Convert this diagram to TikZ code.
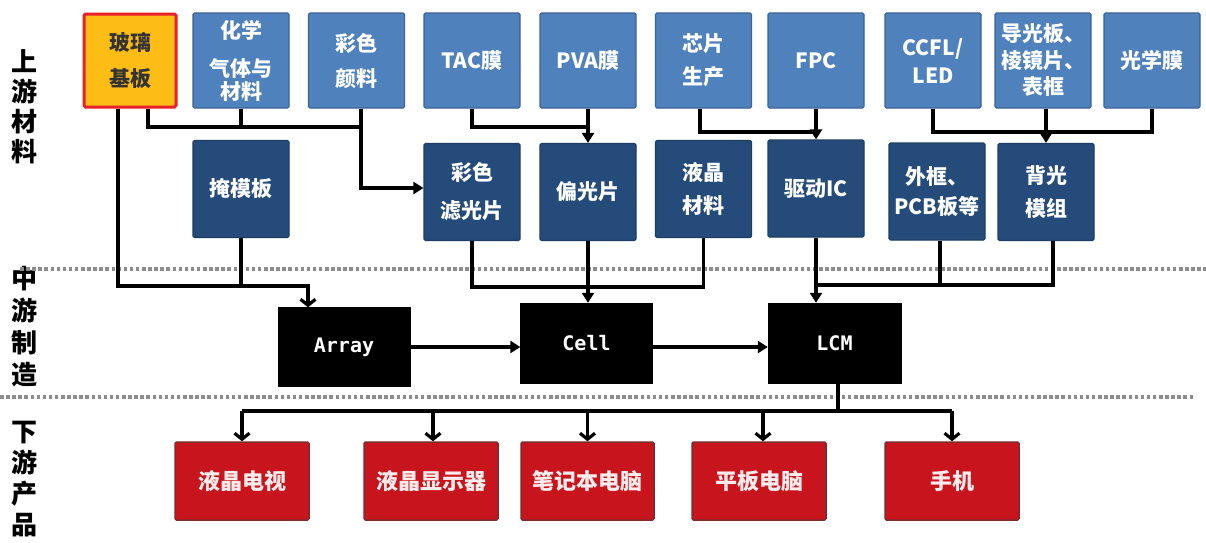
\documentclass[tikz,border=0pt]{standalone}
\usepackage{fontspec}
\setmainfont{Noto Sans CJK SC}
\newfontfamily\cjk{Noto Sans CJK SC}
\newfontfamily\monof{DejaVu Sans Mono}
\usetikzlibrary{arrows.meta,calc}
\definecolor{topblue}{HTML}{4F81BD}
\definecolor{topblueb}{HTML}{3B6396}
\definecolor{darkblue}{HTML}{244B7A}
\definecolor{darkblueb}{HTML}{1D3D63}
\definecolor{prodred}{HTML}{C8141C}
\definecolor{prodredb}{HTML}{7E2B2E}
\definecolor{glassfill}{HTML}{FDBD14}
\definecolor{glassline}{HTML}{E8202A}
\definecolor{dotgray}{HTML}{8C8C8C}
\tikzset{
  box/.style={inner sep=0pt, align=center, rounded corners=1.5pt, line width=1.2pt,
    text=white, font=\cjk\bfseries\fontsize{21}{24}\selectfont},
  topbox/.style={box, fill=topblue, draw=topblueb, minimum width=96pt, minimum height=95pt},
  darkbox/.style={box, fill=darkblue, draw=darkblueb, minimum width=96pt, minimum height=97pt},
  glassbox/.style={box, fill=glassfill, draw=glassline, line width=3pt, text=black!80,
    minimum width=92pt, minimum height=93pt},
  midbox/.style={inner sep=0pt, fill=black, draw=black, text=white,
    minimum width=132pt, minimum height=79pt, font=\monof\bfseries\fontsize{20}{22}\selectfont},
  prodbox/.style={box, fill=prodred, draw=prodredb, line width=1.5pt, text=white!93!red,
    minimum width=134pt, minimum height=78pt, font=\cjk\bfseries\fontsize{22}{24}\selectfont},
  side/.style={align=center, inner sep=0pt, text=black, font=\cjk\bfseries\fontsize{26}{30}\selectfont},
  ln/.style={line width=3.2pt, draw=black},
  tri/.style={ln, -{Triangle[length=10pt,width=12pt]}},
  barb/.style={ln, -{Straight Barb[length=6pt,width=15pt]}},
  dotline/.style={draw=dotgray, line width=3.5pt, dash pattern=on 3.5pt off 2.6pt}
}
\begin{document}
\begin{tikzpicture}[x=1pt,y=-1pt]
\useasboundingbox[fill=white] (0,0) rectangle (1206,542);

% side labels
\node[side] (s1) at (25,107) {上\\游\\材\\料};
\node[side, font=\cjk\bfseries\fontsize{26}{32}\selectfont] (s2) at (25,327) {中\\游\\制\\造};
\node[side, font=\cjk\bfseries\fontsize{26}{31}\selectfont] (s3) at (25,479) {下\\游\\产\\品};

% dotted separators
\coordinate (d1a) at (20,269); \coordinate (d1b) at (1206,269);
\coordinate (d2a) at (0,397); \coordinate (d2b) at (1193,397);
\draw[dotline] (d1a) -- (d1b);
\draw[dotline] (d2a) -- (d2b);

% top row
\node[glassbox] (glass) at (130,60.5) {玻璃\\[12pt]基板};
\node[topbox] (chem) at (241,60.5) {化学\\[14pt]气体与\\[-1pt]材料};
\node[topbox] (pig) at (356.5,60.5) {彩色\\[11pt]颜料};
\node[topbox] (tac) at (472,60.5) {TAC膜};
\node[topbox] (pva) at (588,60.5) {PVA膜};
\node[topbox] (chip) at (703.5,60.5) {芯片\\[9pt]生产};
\node[topbox] (fpc) at (816,60.5) {FPC};
\node[topbox] (ccfl) at (933,60.5) {CCFL/\\[4pt]LED};
\node[topbox] (guide) at (1043,60.5) {导光板、\\[3pt]棱镜片、\\[2pt]表框};
\node[topbox] (film) at (1152,60.5) {光学膜};

% second row
\node[darkbox] (mask) at (241,189) {掩模板};
\node[darkbox] (cf) at (472,192) {彩色\\[14pt]滤光片};
\node[darkbox] (pol) at (588,192) {偏光片};
\node[darkbox] (lc) at (703.5,189) {液晶\\[9pt]材料};
\node[darkbox] (ic) at (816,188.5) {驱动IC};
\node[darkbox] (frame) at (937,191.5) {外框、\\[6pt]PCB板等};
\node[darkbox] (bl) at (1046,192) {背光\\[9pt]模组};

% middle row
\node[midbox] (array) at (344,347) {Array};
\node[midbox, minimum height=80pt] (cell) at (586.5,343) {Cell};
\node[midbox, minimum width=133pt, minimum height=80pt] (lcm) at (834.5,343) {LCM};

% products
\node[prodbox] (tv) at (242,481) {液晶电视};
\node[prodbox] (mon) at (431,481) {液晶显示器};
\node[prodbox, minimum width=133pt] (nb) at (587.5,481) {笔记本电脑};
\node[prodbox] (tab) at (759,481) {平板电脑};
\node[prodbox] (ph) at (952,481) {手机};

% junction rails
\coordinate (jD) at (0,127);
\coordinate (jE) at (0,132);
\coordinate (jA) at (308,286);
\coordinate (jB) at (0,287);
\coordinate (jC) at (0,285);
\coordinate (jF) at (0,411);
\coordinate (jH) at (0,347);

% upstream -> second row
\draw[ln] ([xshift=18pt]glass.south) |- ([xshift=4.5pt]pig.south |- jD);
\draw[ln] (chem.south) -- (chem.south |- jD);
\draw[tri] ([xshift=4.5pt]pig.south) |- ([yshift=4pt]cf.west);
\draw[ln] (tac.south) |- (pva.south |- jD);
\draw[tri] (pva.south) -- (pol.north);
\draw[ln] ([xshift=-3.5pt]chip.south) |- (fpc.south |- jE);
\draw[tri] (fpc.south) -- (ic.north);
\draw[ln] (ccfl.south) |- (film.south |- jE) -- (film.south);
\draw[tri] (guide.south -| bl.north) -- (bl.north);

% second row -> middle
\draw[barb] ([xshift=-12pt]glass.south) |- (jA) -- (jA |- array.north);
\draw[ln] (mask.south) -- (mask.south |- jA);
\draw[ln] (cf.south) |- (lc.south |- jB) -- (lc.south);
\draw[tri] (pol.south) -- (pol.south |- cell.north);
\draw[tri] (ic.south) -- (ic.south |- lcm.north);
\draw[ln] (ic.south |- jC) -| ([xshift=7pt]bl.south);
\draw[ln] ([xshift=3pt]frame.south) -- ([xshift=3pt]frame.south |- jC);

% middle flow
\draw[tri] (array.east |- jH) -- (cell.west |- jH);
\draw[tri] (cell.east |- jH) -- (lcm.west |- jH);

% downstream
\draw[ln] ([xshift=3.5pt]lcm.south) -- ([xshift=3.5pt]lcm.south |- jF);
\draw[ln] (tv.north |- jF) -- (ph.north |- jF);
\draw[barb] (tv.north |- jF) -- (tv.north);
\draw[barb] ([xshift=2pt]mon.north |- jF) -- ([xshift=2pt]mon.north);
\draw[barb] (nb.north |- jF) -- (nb.north);
\draw[barb] ([xshift=4pt]tab.north |- jF) -- ([xshift=4pt]tab.north);
\draw[barb] (ph.north |- jF) -- (ph.north);
\end{tikzpicture}
\end{document}
